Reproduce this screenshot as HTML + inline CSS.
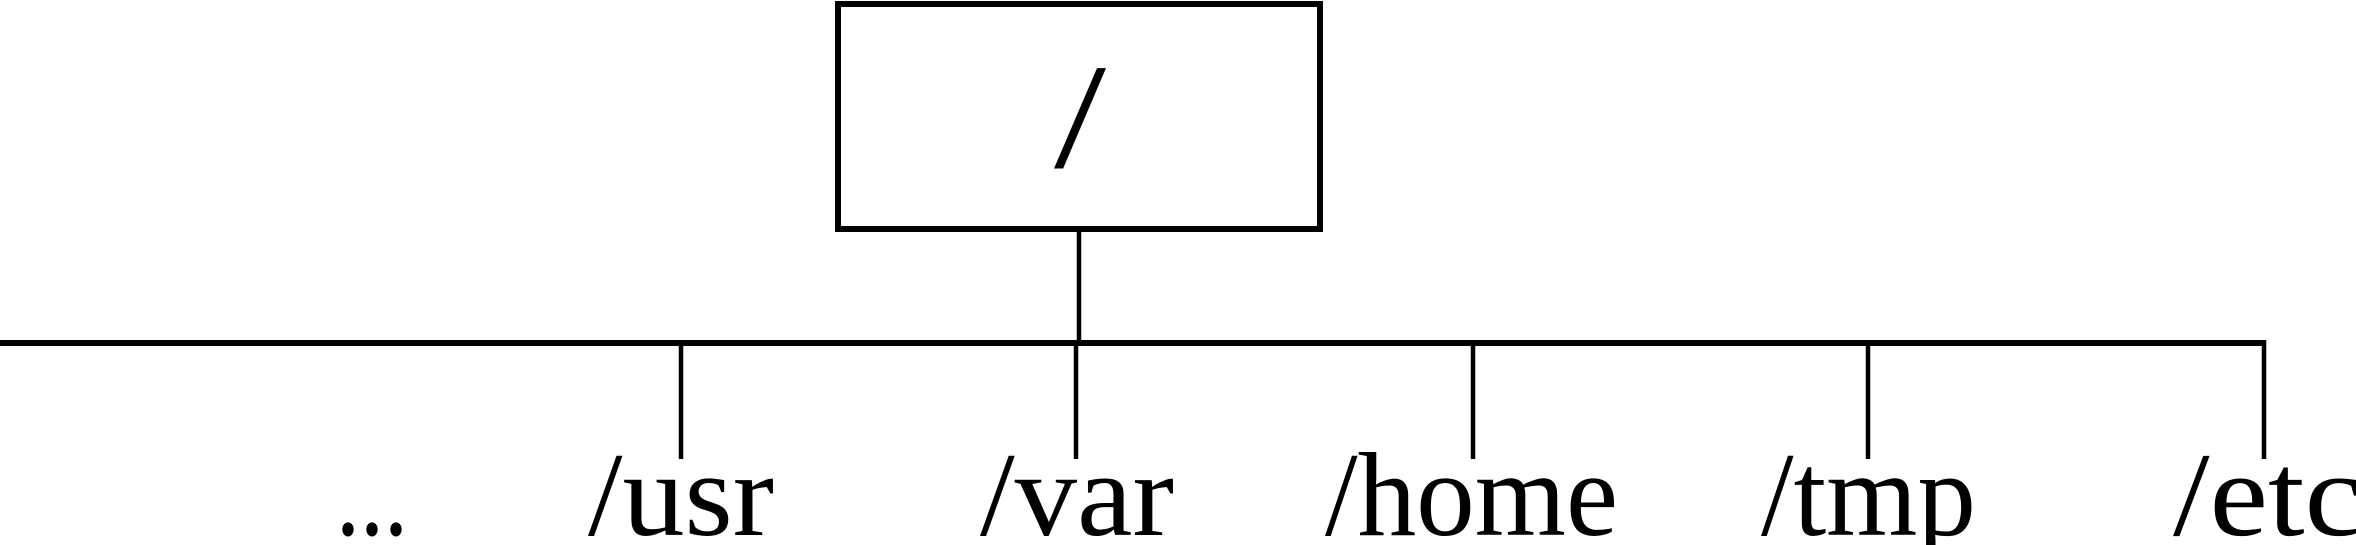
<!DOCTYPE html>
<html><head><meta charset="utf-8"><style>
html,body{margin:0;padding:0;background:#fff;}
svg{display:block;}
text{font-family:"Liberation Serif",serif;fill:#000;}
</style></head><body>
<svg width="2356" height="545" viewBox="0 0 2356 545">
<rect x="838" y="4" width="482" height="225" fill="none" stroke="#000" stroke-width="6"/>
<text x="1054" y="167" font-size="150" font-weight="normal" textLength="52" lengthAdjust="spacingAndGlyphs">/</text>
<line x1="1079" y1="229" x2="1079" y2="343" stroke="#000" stroke-width="4.5"/>
<line x1="0" y1="343" x2="2266" y2="343" stroke="#000" stroke-width="6"/>
<line x1="681" y1="343" x2="681" y2="459" stroke="#000" stroke-width="4.5"/>
<line x1="1076" y1="343" x2="1076" y2="459" stroke="#000" stroke-width="4.5"/>
<line x1="1473" y1="343" x2="1473" y2="459" stroke="#000" stroke-width="4.5"/>
<line x1="1868" y1="343" x2="1868" y2="459" stroke="#000" stroke-width="4.5"/>
<line x1="2264" y1="340" x2="2264" y2="459" stroke="#000" stroke-width="4.5"/>
<text x="336" y="535" font-size="120" textLength="72" lengthAdjust="spacingAndGlyphs">...</text>
<text x="588" y="535" font-size="120" textLength="186" lengthAdjust="spacingAndGlyphs">/usr</text>
<text x="980" y="535" font-size="120" textLength="194" lengthAdjust="spacingAndGlyphs">/var</text>
<text x="1325" y="535" font-size="120" textLength="293" lengthAdjust="spacingAndGlyphs">/home</text>
<text x="1761" y="535" font-size="120" textLength="215" lengthAdjust="spacingAndGlyphs">/tmp</text>
<text x="2173" y="535" font-size="120" textLength="190" lengthAdjust="spacingAndGlyphs">/etc</text>
</svg>
</body></html>
